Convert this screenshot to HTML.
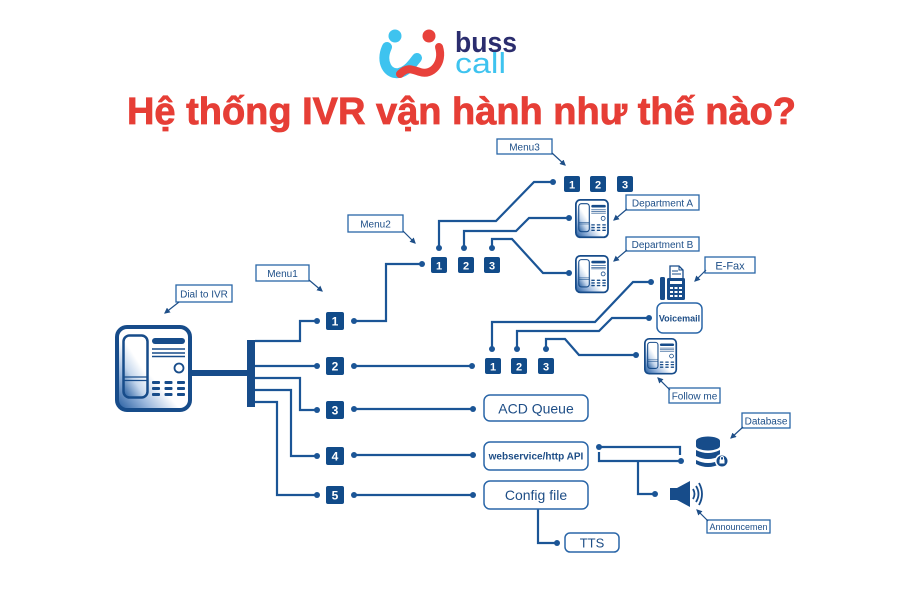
<!DOCTYPE html>
<html><head><meta charset="utf-8">
<style>
html,body{margin:0;padding:0;background:#fff;}
svg{display:block;}
text{font-family:"Liberation Sans",sans-serif;}
</style></head>
<body>
<svg width="900" height="600" viewBox="0 0 900 600" xmlns="http://www.w3.org/2000/svg">
<defs>
  <linearGradient id="pg" x1="0" y1="1" x2="0.8" y2="0.2">
    <stop offset="0" stop-color="#1d579c"/>
    <stop offset="0.3" stop-color="#9db9de"/>
    <stop offset="0.55" stop-color="#ffffff"/>
  </linearGradient>
  <linearGradient id="hg" x1="0" y1="1" x2="0.6" y2="0">
    <stop offset="0" stop-color="#1d579c"/>
    <stop offset="0.4" stop-color="#c4d6ec"/>
    <stop offset="0.7" stop-color="#ffffff"/>
  </linearGradient>
  <marker id="ah" viewBox="0 0 10 10" refX="8" refY="5" markerWidth="5" markerHeight="5" orient="auto">
    <path d="M0,0 L10,5 L0,10 z" fill="#1e4f88"/>
  </marker>
  <g id="phone">
    <rect x="2" y="2" width="73" height="83" rx="10" fill="url(#pg)" stroke="#174c8a" stroke-width="4"/>
    <rect x="8.5" y="10.5" width="24" height="62" rx="6" fill="url(#hg)" stroke="#174c8a" stroke-width="2.5"/>
    <line x1="9" y1="52" x2="32" y2="52" stroke="#174c8a" stroke-width="1.3"/>
    <line x1="9" y1="55.5" x2="32" y2="55.5" stroke="#174c8a" stroke-width="1.3"/>
    <rect x="37" y="13" width="33" height="6" rx="3" fill="#174c8a"/>
    <line x1="37" y1="24" x2="70" y2="24" stroke="#174c8a" stroke-width="1.5"/>
    <line x1="37" y1="28" x2="70" y2="28" stroke="#174c8a" stroke-width="1.5"/>
    <line x1="37" y1="31.5" x2="70" y2="31.5" stroke="#174c8a" stroke-width="1.5"/>
    <circle cx="64" cy="43" r="4.5" fill="#fff" stroke="#174c8a" stroke-width="1.8"/>
    <g fill="#174c8a">
      <rect x="37" y="56" width="8" height="3" rx="1"/><rect x="49.5" y="56" width="8" height="3" rx="1"/><rect x="62" y="56" width="8" height="3" rx="1"/>
      <rect x="37" y="62" width="8" height="3" rx="1"/><rect x="49.5" y="62" width="8" height="3" rx="1"/><rect x="62" y="62" width="8" height="3" rx="1"/>
      <rect x="37" y="68" width="8" height="3" rx="1"/><rect x="49.5" y="68" width="8" height="3" rx="1"/><rect x="62" y="68" width="8" height="3" rx="1"/>
    </g>
  </g>
</defs>

<!-- Logo -->
<g>
  <path d="M387,47 C380,62 388,75 399,73 C408,71 412,64 417,58" fill="none" stroke="#3ec3ef" stroke-width="10" stroke-linecap="round"/>
  <path d="M439,47 C444,63 432,76 420,72 C411,69 407,67 400,74" fill="none" stroke="#e8413b" stroke-width="8" stroke-linecap="round"/>
  <circle cx="395" cy="36" r="6.5" fill="#3ec3ef"/>
  <circle cx="429" cy="36" r="6.5" fill="#e8413b"/>
  <text x="455" y="52" font-size="29" font-weight="bold" fill="#2b2d6e" textLength="62" lengthAdjust="spacingAndGlyphs">buss</text>
  <text x="455" y="73" font-size="29" fill="#3ec3ef" textLength="51" lengthAdjust="spacingAndGlyphs">call</text>
</g>

<!-- Title -->
<text x="127" y="124" font-size="38" font-weight="bold" fill="#e63e36" stroke="#e63e36" stroke-width="0.8" textLength="669" lengthAdjust="spacingAndGlyphs">Hệ thống IVR vận hành như thế nào?</text>

<!-- Big phone -->
<use href="#phone" transform="translate(115,325)"/>
<rect x="192" y="370" width="56" height="6" fill="#174c8a"/>
<rect x="247" y="340" width="8" height="67" fill="#174c8a"/>

<!-- connector lines -->
<g fill="none" stroke="#1b5596" stroke-width="2.2" stroke-linejoin="miter">
  <polyline points="255,341 300,341 300,321 317,321"/>
  <polyline points="255,366 317,366"/>
  <polyline points="255,378 300,378 300,410 317,410"/>
  <polyline points="255,390 291,390 291,456 317,456"/>
  <polyline points="255,402 277,402 277,495 317,495"/>

  <polyline points="354,321 386,321 386,264 422,264"/>
  <line x1="354" y1="366" x2="472" y2="366"/>
  <line x1="354" y1="409" x2="473" y2="409"/>
  <line x1="354" y1="455" x2="473" y2="455"/>
  <line x1="354" y1="495" x2="473" y2="495"/>

  <polyline points="439,248 439,221 496,221 534,182 553,182"/>
  <polyline points="464,248 464,231 516,231 529,218 569,218"/>
  <polyline points="492,248 492,239 512,239 543,273 569,273"/>

  <polyline points="492,349 492,322 595,322 633,282 651,282"/>
  <polyline points="517,349 517,331 599,331 612,318 649,318"/>
  <polyline points="546,349 546,339 565,339 579,355 636,355"/>

  <polyline points="599,447 680,447 680,455"/>
  <polyline points="599,452 599,461 681,461"/>
  <polyline points="638,461 638,494 655,494"/>
  <polyline points="538,509 538,543 557,543"/>
</g>
<g fill="#1b5596">
  <circle cx="317" cy="321" r="3"/><circle cx="317" cy="366" r="3"/><circle cx="317" cy="410" r="3"/><circle cx="317" cy="456" r="3"/><circle cx="317" cy="495" r="3"/>
  <circle cx="354" cy="321" r="3"/><circle cx="354" cy="366" r="3"/><circle cx="354" cy="409" r="3"/><circle cx="354" cy="455" r="3"/><circle cx="354" cy="495" r="3"/>
  <circle cx="422" cy="264" r="3"/><circle cx="472" cy="366" r="3"/><circle cx="473" cy="409" r="3"/><circle cx="473" cy="455" r="3"/><circle cx="473" cy="495" r="3"/>
  <circle cx="439" cy="248" r="3"/><circle cx="464" cy="248" r="3"/><circle cx="492" cy="248" r="3"/>
  <circle cx="553" cy="182" r="3"/><circle cx="569" cy="218" r="3"/><circle cx="569" cy="273" r="3"/>
  <circle cx="492" cy="349" r="3"/><circle cx="517" cy="349" r="3"/><circle cx="546" cy="349" r="3"/>
  <circle cx="651" cy="282" r="3"/><circle cx="649" cy="318" r="3"/><circle cx="636" cy="355" r="3"/>
  <circle cx="599" cy="447" r="3"/><circle cx="681" cy="461" r="3"/><circle cx="655" cy="494" r="3"/><circle cx="557" cy="543" r="3"/>
</g>

<!-- Number boxes -->
<g fill="#114b89">
  <rect x="326" y="312" width="18" height="18" rx="2"/>
  <rect x="326" y="357" width="18" height="18" rx="2"/>
  <rect x="326" y="401" width="18" height="18" rx="2"/>
  <rect x="326" y="447" width="18" height="18" rx="2"/>
  <rect x="326" y="486" width="18" height="18" rx="2"/>
  <rect x="431" y="257" width="16" height="16" rx="2"/>
  <rect x="458" y="257" width="16" height="16" rx="2"/>
  <rect x="484" y="257" width="16" height="16" rx="2"/>
  <rect x="564" y="176" width="16" height="16" rx="2"/>
  <rect x="590" y="176" width="16" height="16" rx="2"/>
  <rect x="617" y="176" width="16" height="16" rx="2"/>
  <rect x="485" y="358" width="16" height="16" rx="2"/>
  <rect x="511" y="358" width="16" height="16" rx="2"/>
  <rect x="538" y="358" width="16" height="16" rx="2"/>
</g>
<g fill="#fff" font-size="12" font-weight="bold" text-anchor="middle">
  <text x="335" y="325.5">1</text><text x="335" y="370.5">2</text><text x="335" y="414.5">3</text><text x="335" y="460.5">4</text><text x="335" y="499.5">5</text>
  <text x="439" y="269.5" font-size="11">1</text><text x="466" y="269.5" font-size="11">2</text><text x="492" y="269.5" font-size="11">3</text>
  <text x="572" y="188.5" font-size="11">1</text><text x="598" y="188.5" font-size="11">2</text><text x="625" y="188.5" font-size="11">3</text>
  <text x="493" y="370.5" font-size="11">1</text><text x="519" y="370.5" font-size="11">2</text><text x="546" y="370.5" font-size="11">3</text>
</g>

<!-- small phones -->
<use href="#phone" transform="translate(575,199) scale(0.44,0.45)"/>
<use href="#phone" transform="translate(575,255) scale(0.44,0.44)"/>
<use href="#phone" transform="translate(644,338) scale(0.43,0.42)"/>

<!-- E-Fax icon -->
<g>
  <path d="M670,266 L679,266 L683,270 L683,279 L670,279 z" fill="#fff" stroke="#174c8a" stroke-width="1.3"/>
  <path d="M679,266 L679,270 L683,270" fill="none" stroke="#174c8a" stroke-width="1"/>
  <line x1="672" y1="271" x2="678" y2="271" stroke="#174c8a" stroke-width="1"/>
  <line x1="672" y1="274" x2="681" y2="274" stroke="#174c8a" stroke-width="1"/>
  <rect x="660" y="277" width="5" height="23" rx="1.5" fill="#174c8a"/>
  <rect x="667" y="278" width="18" height="22" rx="1.5" fill="#174c8a"/>
  <rect x="670" y="281" width="12" height="3" fill="#fff"/>
  <g fill="#fff">
    <rect x="670" y="287" width="3" height="2"/><rect x="674.5" y="287" width="3" height="2"/><rect x="679" y="287" width="3" height="2"/>
    <rect x="670" y="291" width="3" height="2"/><rect x="674.5" y="291" width="3" height="2"/><rect x="679" y="291" width="3" height="2"/>
    <rect x="670" y="295" width="3" height="2"/><rect x="674.5" y="295" width="3" height="2"/><rect x="679" y="295" width="3" height="2"/>
  </g>
</g>

<!-- Database icon -->
<g fill="#174c8a">
  <ellipse cx="708" cy="441" rx="12" ry="4.5"/>
  <rect x="696" y="441" width="24" height="5"/>
  <ellipse cx="708" cy="446" rx="12" ry="4.5"/>
  <path d="M696,450 Q708,456 720,450 L720,456 Q708,462 696,456 z"/>
  <path d="M696,460 Q708,466 720,460 L720,464 Q708,470 696,464 z"/>
  <circle cx="722" cy="461" r="7" fill="#fff"/>
  <circle cx="722" cy="461" r="5.5"/>
  <rect x="719.5" y="459.5" width="5" height="4" fill="#fff"/>
  <path d="M720.5,459.5 v-1.5 a1.5,1.5 0 0 1 3,0 v1.5" fill="none" stroke="#fff" stroke-width="1"/>
</g>

<!-- Speaker -->
<g>
  <rect x="670" y="488" width="8" height="12" fill="#174c8a"/>
  <path d="M677,488 L690,481 L690,507 L677,500 z" fill="#174c8a"/>
  <g fill="none" stroke="#174c8a" stroke-width="1.8">
    <path d="M693,489 Q696,494 693,499"/>
    <path d="M696,486 Q701,494 696,502"/>
    <path d="M699,483 Q705,494 699,505"/>
  </g>
</g>

<!-- Rounded boxes -->
<g fill="#fff" stroke="#2a66a8" stroke-width="1.5">
  <rect x="484" y="395" width="104" height="26" rx="6"/>
  <rect x="484" y="442" width="104" height="28" rx="6"/>
  <rect x="484" y="481" width="104" height="28" rx="6"/>
  <rect x="565" y="533" width="54" height="19" rx="5"/>
  <rect x="657" y="303" width="45" height="30" rx="6"/>
</g>
<g fill="#1d4d86" text-anchor="middle">
  <text x="536" y="413.5" font-size="14">ACD Queue</text>
  <text x="536" y="459.5" font-size="10" font-weight="bold">webservice/http API</text>
  <text x="536" y="500" font-size="14">Config file</text>
  <text x="592" y="547.5" font-size="13">TTS</text>
  <text x="679.5" y="321.5" font-size="9" font-weight="bold">Voicemail</text>
</g>

<!-- Callout labels -->
<g fill="#fff" stroke="#2a66a8" stroke-width="1.3">
  <rect x="176" y="285" width="56" height="17"/>
  <rect x="256" y="265" width="53" height="16"/>
  <rect x="348" y="215" width="55" height="17"/>
  <rect x="497" y="139" width="55" height="15"/>
  <rect x="626" y="195" width="73" height="15"/>
  <rect x="626" y="237" width="73" height="14"/>
  <rect x="705" y="257" width="50" height="16"/>
  <rect x="669" y="388" width="51" height="15"/>
  <rect x="742" y="413" width="48" height="15"/>
  <rect x="707" y="520" width="63" height="13"/>
</g>
<g fill="#1e4f88" font-size="10" text-anchor="middle">
  <text x="204" y="297.5">Dial to IVR</text>
  <text x="282.5" y="277">Menu1</text>
  <text x="375.5" y="227.5">Menu2</text>
  <text x="524.5" y="150.5">Menu3</text>
  <text x="662.5" y="206.5">Department A</text>
  <text x="662.5" y="248">Department B</text>
  <text x="730" y="269.5" font-size="11">E-Fax</text>
  <text x="694.5" y="399.5">Follow me</text>
  <text x="766" y="424.5">Database</text>
  <text x="738.5" y="530" font-size="9">Announcemen</text>
</g>
<g stroke="#1e4f88" stroke-width="1.2" marker-end="url(#ah)">
  <line x1="179" y1="302" x2="165" y2="313"/>
  <line x1="309" y1="280" x2="322" y2="291"/>
  <line x1="403" y1="231" x2="415" y2="243"/>
  <line x1="552" y1="153" x2="565" y2="165"/>
  <line x1="627" y1="209" x2="614" y2="220"/>
  <line x1="627" y1="250" x2="614" y2="261"/>
  <line x1="706" y1="270" x2="695" y2="281"/>
  <line x1="670" y1="390" x2="658" y2="378"/>
  <line x1="743" y1="427" x2="731" y2="438"/>
  <line x1="708" y1="521" x2="697" y2="510"/>
</g>
</svg>
</body></html>
